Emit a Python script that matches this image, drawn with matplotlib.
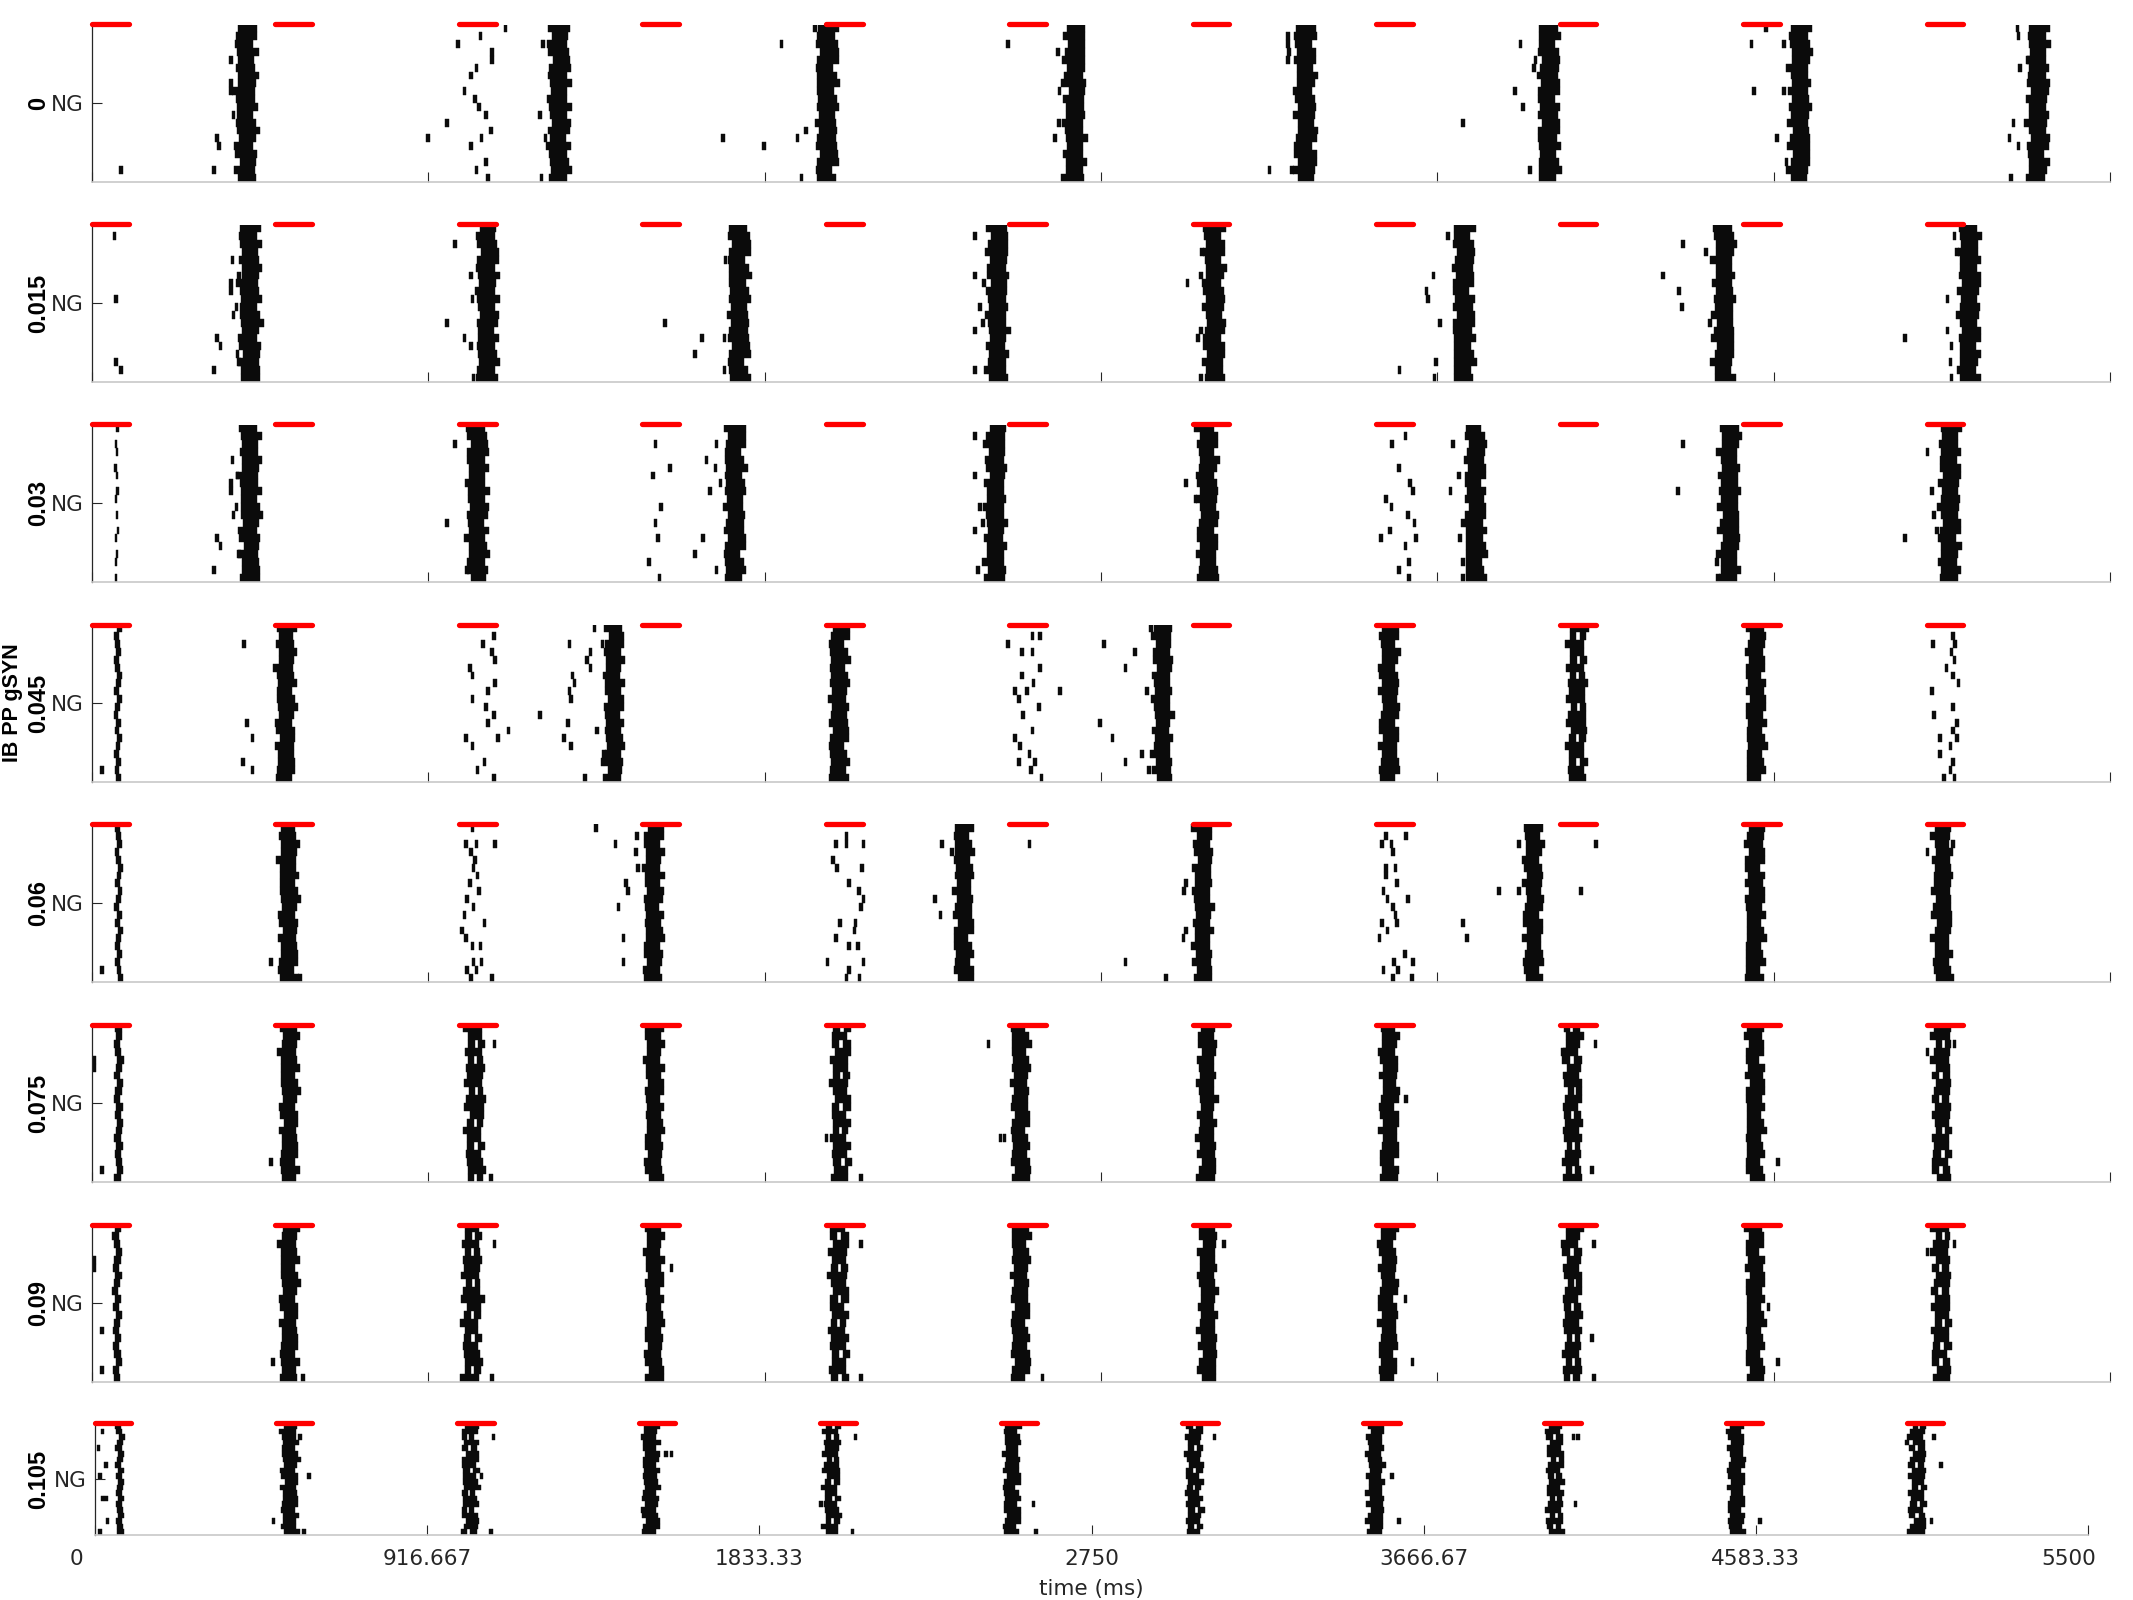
import numpy as np
import matplotlib
matplotlib.use('Agg')
import matplotlib.pyplot as plt
from matplotlib import font_manager
from matplotlib.transforms import ScaledTranslation

# --- data ------------------------------------------------------------------
gsyn_labels = ['0', '0.015', '0.03', '0.045', '0.06', '0.075', '0.09', '0.105']
pulse_on = [0, 500, 1000, 1500, 2000, 2500, 3000, 3500, 4000, 4500, 5000]
pulse_len = 100
xtick_vals = [0, 916.667, 1833.33, 2750, 3666.67, 4583.33, 5500]
xtick_text = ['0', '916.667', '1833.33', '2750', '3666.67', '4583.33', '5500']
n_cells = 20

# per-cell jitter (ms) and burst length (ms) of a volley, cell 1 (bottom) .. 20 (top)
wig_a = [2, -4, 5, 0, -6, 3, 7, 1, -3, 4, -1, -7, 2, 6, -2, 0, 4, -5, 1, 3]
wig_b = [-3, 1, 6, -2, 4, -6, 0, 5, -4, 2, 7, -1, -5, 3, 0, -3, 6, 2, -2, 4]
len_a = [38, 44, 34, 46, 40, 36, 48, 42, 35, 45, 39, 47, 37, 43, 41, 34, 46, 38, 44, 40]
gap_a = [1, 0, 0, 1, 0, 0, 0, 1, 0, 0, 1, 0, 0, 0, 1, 0, 0, 0, 1, 0]
# which cells fire in the weak first volley of the 0.03 run
weak_a = [1, 0, 1, 1, 0, 1, 1, 0, 1, 0, 1, 1, 0, 1, 1, 0, 1, 1, 0, 1]

# volley times (ms) per gSYN value
thin_0, dense_0, ragged_0 = [], [420, 1273, 2003, 2678, 3307, 3970, 4654, 5303], []
thin_1, dense_1, ragged_1 = [], [430, 1077, 1763, 2467, 3058, 3738, 4447, 5116], []
thin_2, dense_2, ragged_2 = [68], [430, 1050, 1752, 2462, 3040, 3770, 4462, 5063], []
thin_3, dense_3, ragged_3 = [70], [528, 1422, 2036, 2917, 3535, 4534], [4047]
thin_4, dense_4, ragged_4 = [72], [535, 1530, 2375, 3027, 3928, 4532, 5043], []
thin_5, dense_5, ragged_5 = [72], [537, 1532, 2530, 3038, 3535, 4532], [1043, 2040, 4035, 5041]
thin_6, dense_6, ragged_6 = [68], [537, 1532, 2530, 3040, 3532, 4532], [1035, 2035, 4035, 5040]
thin_7, dense_7, ragged_7 = [68], [537, 1533, 2530, 3533, 4529], [1035, 2033, 3033, 4029, 5029]

# isolated spikes (time ms, cell)
stray_0 = [(79, 2), (332, 2), (340, 6), (347, 5), (379, 16), (379, 13), (379, 12), (386, 9), (916, 6),
           (997, 18), (1059, 19), (1091, 17), (1091, 16), (1048, 15), (1033, 14), (1015, 12), (1044, 11),
           (1055, 10), (1073, 9), (968, 8), (1088, 7), (1062, 6), (1033, 5), (1073, 3), (1048, 2), (1080, 1),
           (1127, 20), (1229, 18), (1221, 9), (1236, 6), (1243, 5), (1225, 1),
           (1879, 18), (1720, 6), (1832, 5), (1923, 6), (1946, 7), (1934, 1), (1970, 20),
           (2497, 18), (2633, 17), (2637, 12), (2635, 8), (2624, 6), (2645, 13),
           (3260, 19), (3260, 18), (3262, 17), (3260, 16), (3209, 2), (3271, 2),
           (3893, 18), (3879, 12), (3930, 15), (3901, 10), (3736, 8), (3919, 2), (3934, 16),
           (4523, 18), (4563, 20), (4530, 12), (4611, 12), (4593, 6), (4618, 3), (4611, 18),
           (5248, 20), (5251, 19), (5255, 15), (5277, 16), (5237, 8), (5226, 6), (5251, 5), (5230, 1)]
stray_1 = [(61, 19), (65, 11), (65, 3), (79, 2),
           (383, 16), (401, 14), (379, 13), (379, 12), (394, 10), (386, 9), (340, 6), (350, 5), (332, 2),
           (397, 4), (401, 3), (990, 18), (968, 8), (1033, 14), (1037, 11), (1015, 6), (1033, 5), (1040, 1),
           (1561, 8), (1644, 4), (1662, 6), (1724, 6), (1727, 16), (1724, 2),
           (2407, 19), (2407, 14), (2421, 10), (2428, 8), (2407, 7), (2407, 2), (2432, 13),
           (3026, 17), (3022, 14), (2986, 13), (3022, 7), (3015, 6), (3022, 1),
           (3696, 19), (3656, 14), (3637, 12), (3641, 11), (3674, 8), (3663, 3), (3659, 1), (3564, 2),
           (4336, 18), (4399, 17), (4282, 14), (4326, 12), (4333, 10), (4410, 8),
           (5076, 19), (5083, 17), (5057, 11), (4941, 6), (5057, 7), (5068, 5), (5065, 3), (5068, 1)]
stray_2 = [(383, 16), (397, 14), (379, 13), (379, 12), (394, 10), (386, 9), (340, 6), (350, 5), (332, 2),
           (401, 4), (990, 18), (968, 8), (1019, 6), (1022, 2),
           (1536, 18), (1576, 15), (1529, 14), (1550, 10), (1536, 8), (1543, 6), (1518, 3), (1547, 1),
           (1702, 18), (1675, 16), (1699, 15), (1713, 13), (1684, 12), (1666, 6), (1644, 4), (1702, 2),
           (2407, 19), (2407, 14), (2421, 10), (2428, 8), (2407, 7), (2414, 2),
           (3008, 20), (2982, 13), (3008, 11),
           (3544, 18), (3580, 19), (3562, 15), (3593, 13), (3601, 12), (3526, 11), (3542, 10), (3586, 9),
           (3604, 8), (3538, 7), (3608, 6), (3580, 5), (3590, 3), (3562, 2), (3590, 1), (3513, 6),
           (3710, 18), (3725, 14), (3703, 12), (3736, 8), (3729, 6), (3736, 3), (3736, 1),
           (4336, 18), (4322, 12), (4428, 3), (4432, 1),
           (5003, 17), (5014, 12), (5021, 9), (4941, 6), (5029, 7), (5036, 6)]
stray_3 = [(28, 2), (415, 18), (422, 8), (437, 6), (412, 3), (437, 2),
           (1066, 18), (1095, 19), (1091, 17), (1098, 16), (1030, 15), (1037, 14), (1098, 13), (1080, 12),
           (1037, 11), (1073, 10), (1095, 9), (1080, 8), (1135, 7), (1019, 6), (1106, 6), (1037, 5),
           (1070, 3), (1051, 2), (1095, 1),
           (1370, 20), (1301, 18), (1391, 18), (1359, 17), (1350, 16), (1359, 15), (1310, 14), (1315, 13),
           (1301, 12), (1305, 11), (1221, 9), (1297, 8), (1377, 7), (1287, 6), (1305, 5), (1395, 4),
           (1391, 3), (1344, 1),
           (2497, 18), (2563, 19), (2584, 19), (2534, 17), (2563, 17), (2584, 15), (2534, 14), (2566, 13),
           (2515, 12), (2548, 12), (2638, 12), (2526, 11), (2581, 10), (2537, 9), (2563, 7), (2515, 6),
           (2530, 5), (2555, 4), (2526, 3), (2570, 3), (2559, 2), (2588, 1),
           (2759, 18), (2843, 17), (2817, 15), (2887, 20), (2748, 8), (2781, 6), (2861, 4), (2817, 3),
           (2880, 2), (2876, 12),
           (5072, 19), (5077, 18), (5068, 17), (5076, 16), (5072, 14), (5087, 13), (5014, 12), (5072, 10),
           (5021, 9), (5083, 8), (5072, 7), (5036, 6), (5083, 6), (5065, 5), (5036, 4), (5072, 3),
           (5065, 2), (5047, 1), (5076, 1), (5017, 18), (5054, 15)]
stray_4 = [(28, 2), (488, 3), (567, 1),
           (1037, 20), (1019, 18), (1048, 18), (1098, 18), (1033, 17), (1044, 16), (1040, 15), (1051, 14),
           (1030, 13), (1055, 12), (1022, 11), (1040, 10), (1015, 9), (1070, 8), (1008, 7), (1019, 6),
           (1037, 5), (1059, 5), (1040, 3), (1062, 3), (1022, 2), (1048, 2), (1033, 1), (1091, 1),
           (1373, 20), (1427, 18), (1485, 19), (1482, 17), (1489, 15), (1460, 12), (1456, 13), (1435, 10),
           (1449, 6), (1449, 3),
           (2056, 19), (2027, 18), (2056, 18), (2103, 18), (2020, 16), (2030, 15), (2099, 15), (2063, 13),
           (2091, 12), (2103, 11), (2096, 10), (2038, 8), (2081, 8), (2078, 7), (2027, 6), (2063, 5),
           (2088, 5), (2005, 3), (2103, 3), (2063, 2), (2092, 1), (2056, 1),
           (2317, 18), (2344, 17), (2298, 11), (2313, 9), (2555, 18),
           (2982, 13), (2976, 12), (2982, 7), (2975, 6), (2817, 3), (2927, 1),
           (3526, 19), (3582, 19), (3516, 18), (3542, 18), (3546, 17), (3526, 15), (3553, 15), (3527, 14),
           (3557, 13), (3520, 12), (3531, 11), (3586, 11), (3546, 10), (3553, 9), (3516, 8), (3557, 8),
           (3531, 7), (3509, 6), (3579, 4), (3549, 3), (3601, 3), (3520, 2), (3560, 2), (3546, 1), (3597, 1),
           (3736, 8), (3747, 6), (3835, 12), (3890, 18), (3890, 12), (4099, 18), (4058, 12),
           (5003, 17), (5072, 18)]
stray_5 = [(7, 16), (7, 15), (28, 2), (488, 3), (1097, 18), (1070, 11), (1088, 1), (2443, 18), (2476, 6),
           (2487, 6), (2096, 1), (2002, 6), (4098, 18), (3582, 11), (4596, 3), (5076, 18), (5003, 17),
           (4014, 17), (4088, 2)]
stray_6 = [(7, 16), (7, 15), (28, 7), (28, 2), (493, 3), (575, 1), (1097, 18), (1066, 11), (1091, 1),
           (1579, 15), (2096, 18), (2096, 1), (2591, 1), (3086, 18), (3580, 11), (3599, 3), (4093, 18),
           (4088, 6), (4093, 1), (4596, 3), (4569, 10), (5076, 18), (5003, 17)]
stray_7 = [(21, 19), (10, 16), (31, 13), (14, 11), (21, 7), (31, 7), (35, 3), (14, 1), (566, 18), (591, 11),
           (493, 3), (577, 1), (1100, 18), (1067, 11), (1093, 1), (1591, 15), (1576, 15), (2099, 18),
           (2004, 6), (2090, 1), (2590, 6), (2597, 1), (3089, 18), (3580, 11), (3598, 3), (4080, 18),
           (4093, 18), (4086, 6), (4594, 3), (5094, 13), (5075, 18), (5001, 17), (5068, 3)]

panels = [
    (thin_0, dense_0, ragged_0, stray_0),
    (thin_1, dense_1, ragged_1, stray_1),
    (thin_2, dense_2, ragged_2, stray_2),
    (thin_3, dense_3, ragged_3, stray_3),
    (thin_4, dense_4, ragged_4, stray_4),
    (thin_5, dense_5, ragged_5, stray_5),
    (thin_6, dense_6, ragged_6, stray_6),
    (thin_7, dense_7, ragged_7, stray_7),
]
len_scale = [1.3, 1.3, 1.25, 1.15, 1.15, 1.1, 1.1, 1.0]
thin_width = [0, 0, 6, 13, 13, 17, 17, 17]

# --- figure ----------------------------------------------------------------
W, H = 2133, 1600
fig = plt.figure(figsize=(W / 100, H / 100), dpi=100)
plt.rcParams['font.family'] = ['DejaVu Sans']
axcol = '#262626'
spike = '#0b0b0b'

# narrow bold face for the gSYN labels, if it is there
try:
    font_manager.findfont(font_manager.FontProperties(family='Liberation Sans Narrow', weight='bold'),
                          fallback_to_default=False)
    lab_family, lab_size, ib_size = 'Liberation Sans Narrow', 20, 18
except ValueError:
    lab_family, lab_size, ib_size = 'Liberation Sans', 17, 15.5


def burst_rects(thin, dense, ragged, scale, tw, shift, sparse_first):
    ys, lefts, widths = [], [], []
    for j, c in enumerate(thin):
        off = np.roll(wig_b, 7 * j + shift)
        for k in range(n_cells):
            if sparse_first and not weak_a[k]:
                continue
            ys.append(k + 1); lefts.append(c + 0.8 * off[k] - tw / 2); widths.append(tw)
    for j, c in enumerate(dense + ragged):
        off = np.roll(wig_a if j % 2 == 0 else wig_b, 5 * j + shift)
        ln = np.roll(len_a, 3 * j + shift) * scale
        gp = np.roll(gap_a, 2 * j + shift)
        for k in range(n_cells):
            s = c + off[k] - ln[k] / 2
            if c in ragged and gp[k]:
                ys += [k + 1, k + 1]
                lefts += [s, s + 0.6 * ln[k]]
                widths += [0.4 * ln[k], 0.4 * ln[k]]
            else:
                ys.append(k + 1); lefts.append(s); widths.append(ln[k])
    return ys, lefts, widths


n = len(panels)
for i, (thin, dense, ragged, stray) in enumerate(panels):
    if i < n - 1:
        top_px, bot_px, left_px, right_px = 24.5 + 200 * i, 181.5 + 200 * i, 92, 2110
    else:
        top_px, bot_px, left_px, right_px = 1423, 1535, 95, 2088
    ax = fig.add_axes([left_px / W, 1 - bot_px / H, (right_px - left_px) / W, (bot_px - top_px) / H])

    ys, lefts, widths = burst_rects(thin, dense, ragged, len_scale[i], thin_width[i], i, i == 2)
    ax.barh(ys, widths, left=lefts, height=1.0, color=spike, edgecolor=spike, linewidth=0.3)
    st = np.array(stray, dtype=float)
    ax.barh(st[:, 1], 10, left=st[:, 0] - 5, height=1.0, color=spike, edgecolor=spike, linewidth=0.3)

    for p in pulse_on:
        ax.plot([p, p + pulse_len], [n_cells + 0.5, n_cells + 0.5], color='#ff0000', lw=3.8,
                solid_capstyle='round', clip_on=False, zorder=5)

    ax.set_xlim(0, 5500)
    ax.set_ylim(0.5, n_cells + 0.5)
    for side in ['top', 'right']:
        ax.spines[side].set_visible(False)
    ax.spines['left'].set_color(axcol)
    ax.spines['left'].set_linewidth(0.9)
    ax.spines['bottom'].set_color('#c8c8c8')
    ax.spines['bottom'].set_linewidth(1.2)
    ax.set_yticks([(n_cells + 1) / 2])
    ax.set_yticklabels(['NG'])
    ax.set_xticks(xtick_vals)
    if i == n - 1:
        ax.set_xticklabels(xtick_text)
        ax.set_xlabel('time (ms)', fontsize=15.5, color=axcol, labelpad=7)
    else:
        ax.set_xticklabels([])
    ax.tick_params(direction='in', length=7, width=0.8, color=axcol, labelcolor=axcol,
                   labelsize=15.5)
    ax.tick_params(axis='y', pad=6)
    ax.tick_params(axis='x', pad=10)
    if i == n - 1:
        labs = ax.get_xticklabels()
        labs[0].set_transform(labs[0].get_transform() + ScaledTranslation(-0.19, 0, fig.dpi_scale_trans))
        labs[-1].set_transform(labs[-1].get_transform() + ScaledTranslation(-0.19, 0, fig.dpi_scale_trans))

    yc = 1 - (top_px + bot_px) / 2 / H
    if i == 3:
        fig.text(13 / W, yc, 'IB PP gSYN', rotation=90, ha='center', va='center',
                 fontsize=ib_size, fontweight='bold', family=[lab_family, 'DejaVu Sans'])
    fig.text(39 / W, yc, gsyn_labels[i], rotation=90, ha='center', va='center',
             fontsize=lab_size, fontweight='bold', family=[lab_family, 'DejaVu Sans'])

fig.savefig('out.png', dpi=100)
